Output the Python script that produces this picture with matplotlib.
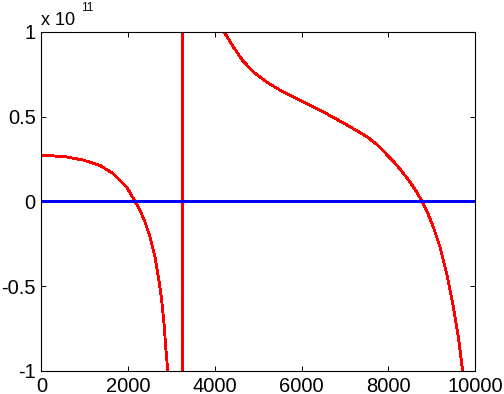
import numpy as np
import matplotlib
matplotlib.use('Agg')
import matplotlib.pyplot as plt

plt.rcParams['font.family'] = ['Liberation Sans', 'DejaVu Sans']
plt.rcParams['axes.unicode_minus'] = False

# red curve, y in units of 1e11 (values past +-1 run off the axes)
curve_x = [0, 585, 969, 1353, 1660, 1815, 1969, 2160, 2276, 2391, 2507, 2622, 2699,
           2776, 2829, 2868, 2914, 3000, 3100, 3200, 3259,
           3261, 3300, 3500, 3800, 4000, 4212, 4427, 4658, 4889, 5196, 5580, 5965,
           6349, 6733, 7118, 7502, 7733, 7886, 8116, 8270, 8501, 8655, 8778, 8885,
           9039, 9193, 9347, 9500, 9616, 9710, 10000]
curve_y = [0.273, 0.262, 0.243, 0.212, 0.163, 0.124, 0.084, 0.0, -0.053, -0.122,
           -0.210, -0.328, -0.446, -0.583, -0.721, -0.859, -0.996, -1.5, -3.0, -8.0,
           -60.0,
           60.0, 10.0, 3.0, 1.6, 1.25, 1.0, 0.91, 0.825, 0.762, 0.703, 0.644, 0.596,
           0.548, 0.495, 0.440, 0.382, 0.336, 0.297, 0.236, 0.191, 0.114, 0.055, 0.0,
           -0.053, -0.151, -0.269, -0.426, -0.623, -0.80, -0.99, -2.5]

# blue zero line
zero_x = [0, 10000]
zero_y = [0, 0]

xticks = [0, 2000, 4000, 6000, 8000, 10000]
yticks = [-1, -0.5, 0, 0.5, 1]
yticklabels = ['-1', '-0.5', '0', '0.5', '1']

fig = plt.figure(figsize=(5.04, 3.94), dpi=100)
ax = fig.add_axes([0.082, 0.0584, 0.8605, 0.8611])

ax.plot(curve_x, curve_y, color='#ff0000', linewidth=1.3, antialiased=False)
ax.plot(zero_x, zero_y, color='#0000ff', linewidth=1.8, antialiased=False)

ax.set_xlim(0, 10000)
ax.set_ylim(-1, 1)
ax.set_xticks(xticks)
ax.set_xticklabels([str(t) for t in xticks])
ax.set_yticks(yticks)
ax.set_yticklabels(yticklabels)
ax.tick_params(direction='in', length=3.6, width=0.7, top=True, right=True,
               labelsize=14.5, pad=4)
for s in ax.spines.values():
    s.set_linewidth(0.8)

# MATLAB style exponent label
fig.text(41 / 504, 1 - 25 / 394, 'x 10', fontsize=13, va='baseline', ha='left')
fig.text(81 / 504, 1 - 11 / 394, '11', fontsize=8.5, va='baseline', ha='left')

fig.savefig('out.png', dpi=100)
